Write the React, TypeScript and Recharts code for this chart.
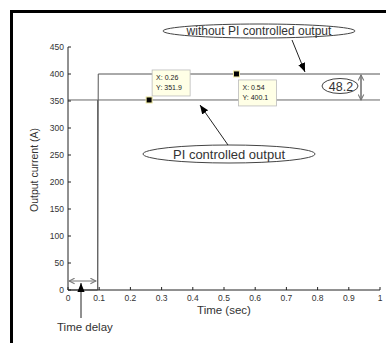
import { LineChart, Line, XAxis, YAxis, ReferenceDot } from 'recharts'

const X_TICKS = [0, 0.1, 0.2, 0.3, 0.4, 0.5, 0.6, 0.7, 0.8, 0.9, 1]
const Y_TICKS = [0, 50, 100, 150, 200, 250, 300, 350, 400, 450]

// step response without the PI controller
const WITHOUT_PI = [
  { t: 0, current: 0 },
  { t: 0.095, current: 0 },
  { t: 0.097, current: 400 },
  { t: 1, current: 400 },
]

// PI controlled output (vertical rise drawn back and forth at the step)
const PI_OUTPUT = [
  { t: 0, current: 351.9 },
  { t: 0.095, current: 351.9 },
  { t: 0.095, current: 0 },
  { t: 0.095, current: 351.9 },
  { t: 1, current: 351.9 },
]

const DATA_TIPS = [
  { t: 0.26, current: 351.9 },
  { t: 0.54, current: 400.1 },
]

// box offsets of the data tips, relative to the marker
const TIP_OFFSETS = [
  { dx: 3, dy: -30 },
  { dx: 2, dy: 6 },
]

const FONT = 'Liberation Sans, Arial, sans-serif'
const AXIS = '#222'

function BottomTick({ x, y, payload }: any) {
  return (
    <g>
      <line x1={x} x2={x} y1={y} y2={y - 3} stroke={AXIS} />
      <text x={x} y={y + 11} textAnchor="middle" fontSize={8.5} fill="#333" fontFamily={FONT}>
        {payload.value}
      </text>
    </g>
  )
}

function LeftTick({ x, y, payload }: any) {
  return (
    <g>
      <line x1={x} x2={x + 3} y1={y} y2={y} stroke={AXIS} />
      <text x={x - 4} y={y + 3} textAnchor="end" fontSize={8.5} fill="#333" fontFamily={FONT}>
        {payload.value}
      </text>
    </g>
  )
}

function TopTick({ x, y }: any) {
  return <line x1={x} x2={x} y1={y} y2={y + 3} stroke={AXIS} />
}

function RightTick({ x, y }: any) {
  return <line x1={x} x2={x - 3} y1={y} y2={y} stroke={AXIS} />
}

function makeTip(i: number) {
  const tip = DATA_TIPS[i]
  const off = TIP_OFFSETS[i]
  return (props: any) => {
    const { cx, cy } = props
    return (
      <g>
        <rect
          x={cx + off.dx}
          y={cy + off.dy}
          width={38}
          height={26}
          fill="#ffffe6"
          stroke="#bbb"
          strokeWidth={0.8}
        />
        <text x={cx + off.dx + 4} y={cy + off.dy + 10} fontSize={7} fill="#222" fontFamily={FONT}>
          X: {tip.t}
        </text>
        <text x={cx + off.dx + 4} y={cy + off.dy + 20} fontSize={7} fill="#222" fontFamily={FONT}>
          Y: {tip.current}
        </text>
        <rect x={cx - 3} y={cy - 3} width={6} height={6} fill="#000" stroke="#eee8a0" strokeWidth={1} />
      </g>
    )
  }
}

export default function App() {
  return (
    <div style={{ position: 'absolute', left: 0, top: 0, width: 386, height: 343, overflow: 'hidden', background: '#fff' }}>
      <div
        style={{
          position: 'absolute',
          left: 10,
          top: 10,
          width: 400,
          height: 360,
          borderLeft: '3px solid #000',
          borderTop: '3px solid #000',
        }}
      />
      <div style={{ position: 'absolute', left: 0, top: 0 }}>
        <LineChart width={386} height={343} margin={{ left: 33, right: 6, top: 47, bottom: 29 }}>
          <XAxis
            xAxisId="bottom"
            dataKey="t"
            type="number"
            domain={[0, 1]}
            ticks={X_TICKS}
            tickSize={0}
            tickMargin={0}
            tickLine={false}
            tick={<BottomTick />}
            axisLine={{ stroke: AXIS }}
            height={24}
            allowDuplicatedCategory={false}
            label={{ value: 'Time (sec)', position: 'insideBottom', offset: 0, fontSize: 11.5, fill: '#333', fontFamily: FONT }}
          />
          <XAxis
            xAxisId="top"
            orientation="top"
            dataKey="t"
            type="number"
            domain={[0, 1]}
            ticks={X_TICKS}
            tickSize={0}
            tickMargin={0}
            tickLine={false}
            tick={<TopTick />}
            axisLine={{ stroke: AXIS }}
            height={0}
          />
          <YAxis
            yAxisId="left"
            type="number"
            domain={[0, 450]}
            ticks={Y_TICKS}
            tickSize={0}
            tickMargin={0}
            tickLine={false}
            tick={<LeftTick />}
            axisLine={{ stroke: AXIS }}
            width={35}
          />
          <YAxis
            yAxisId="right"
            orientation="right"
            type="number"
            domain={[0, 450]}
            ticks={Y_TICKS}
            tickSize={0}
            tickMargin={0}
            tickLine={false}
            tick={<RightTick />}
            axisLine={{ stroke: AXIS }}
            width={0}
          />
          <Line
            xAxisId="bottom"
            yAxisId="left"
            data={WITHOUT_PI}
            dataKey="current"
            type="linear"
            stroke="#555"
            strokeWidth={1}
            dot={false}
            isAnimationActive={false}
          />
          <Line
            xAxisId="bottom"
            yAxisId="left"
            data={PI_OUTPUT}
            dataKey="current"
            type="linear"
            stroke="#666"
            strokeWidth={1}
            dot={false}
            isAnimationActive={false}
          />
          {DATA_TIPS.map((d, i) => (
            <ReferenceDot
              key={i}
              xAxisId="bottom"
              yAxisId="left"
              x={d.t}
              y={d.current}
              r={3}
              ifOverflow="visible"
              shape={makeTip(i)}
            />
          ))}
        </LineChart>
      </div>
      <svg
        width={386}
        height={343}
        style={{ position: 'absolute', left: 0, top: 0, pointerEvents: 'none' }}
        fontFamily={FONT}
      >
        <defs>
          <marker id="head" viewBox="0 0 10 10" refX="10" refY="5" markerWidth="9" markerHeight="9" orient="auto-start-reverse">
            <path d="M0,1 L10,5 L0,9 z" fill="#000" />
          </marker>
          <marker id="open" viewBox="0 0 10 10" refX="9" refY="5" markerWidth="7" markerHeight="7" orient="auto-start-reverse">
            <path d="M1,1 L9,5 L1,9" fill="none" stroke="#777" strokeWidth={1.5} />
          </marker>
        </defs>
        <text
          x={38}
          y={170}
          transform="rotate(-90 38 170)"
          textAnchor="middle"
          fontSize={10.5}
          fill="#333"
        >
          Output current (A)
        </text>

        <ellipse cx={259} cy={31} rx={96} ry={7} fill="#fff" stroke="#444" />
        <text x={259} y={35} textAnchor="middle" fontSize={12} fill="#333">
          without PI controlled output
        </text>
        <line x1={292} y1={40} x2={305} y2={72} stroke="#222" markerEnd="url(#head)" />

        <ellipse cx={229} cy={154} rx={86} ry={9} fill="#fff" stroke="#444" />
        <text x={229} y={158.5} textAnchor="middle" fontSize={13} fill="#333">
          PI controlled output
        </text>
        <line x1={228} y1={145} x2={200} y2={105} stroke="#222" markerEnd="url(#head)" />

        <ellipse cx={340} cy={86} rx={18} ry={7.5} fill="#fff" stroke="#444" />
        <text x={341} y={90.5} textAnchor="middle" fontSize={12.5} fill="#333">
          48.2
        </text>
        <line x1={361} y1={75} x2={361} y2={100} stroke="#222" markerStart="url(#open)" markerEnd="url(#open)" />

        <line x1={69} y1={281} x2={96} y2={281} stroke="#777" markerStart="url(#open)" markerEnd="url(#open)" />
        <line x1={81} y1={318} x2={81} y2={283} stroke="#222" markerEnd="url(#head)" />
        <text x={57} y={331} fontSize={11.5} fill="#333">
          Time delay
        </text>
      </svg>
    </div>
  )
}
